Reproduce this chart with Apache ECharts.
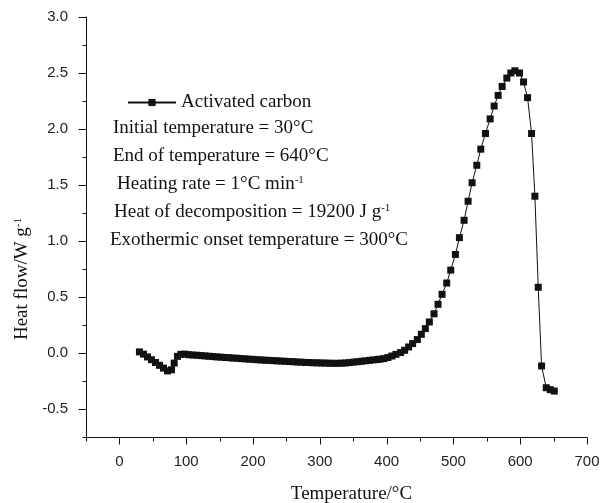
<!DOCTYPE html>
<html>
<head>
<meta charset="utf-8">
<title>Heat flow of activated carbon</title>
<script src="https://cdn.jsdelivr.net/npm/echarts@6/dist/echarts.min.js"></script>
<style>
  html, body { margin: 0; padding: 0; background: #fff; }
  #chart { width: 616px; height: 503px; }
</style>
</head>
<body>
<div id="chart"></div>
<script>
const ink = "#111";
const serif = "Liberation Serif";
const sans = "Liberation Sans";

// temperature (°C) and heat flow (W/g)
const temperature = [
  30, 36, 42, 48, 54, 60, 66, 72, 78, 82, 87, 92,
  98, 104, 110, 116, 122, 128, 134, 140, 146, 152, 158, 164, 170, 176, 182, 188,
  194, 200, 206, 212, 218, 224, 230, 236, 242, 248, 254, 260, 266, 272, 278, 284,
  290, 296, 302, 308, 314, 320, 326, 332, 338, 344, 350, 356, 362, 368, 374, 380,
  386, 390, 396, 402, 408, 414, 421, 427, 433, 439, 446, 452, 458, 464, 471, 477,
  483, 490, 496, 503, 509, 516, 522, 528, 535, 541, 548, 555, 561, 567, 573, 580,
  586, 592, 599, 605, 611, 617, 622, 627, 632, 639, 645, 651,
];
const heatFlow = [
  0.01, -0.01, -0.035, -0.06, -0.085, -0.11, -0.135, -0.16, -0.15, -0.09, -0.03, -0.012,
  -0.01, -0.015, -0.018, -0.02, -0.023, -0.026, -0.029, -0.032, -0.035, -0.037, -0.04, -0.042,
  -0.045, -0.047, -0.05, -0.052, -0.055, -0.057, -0.06, -0.062, -0.064, -0.066, -0.068, -0.07,
  -0.072, -0.074, -0.076, -0.078, -0.08, -0.082, -0.084, -0.085, -0.087, -0.088, -0.089, -0.09,
  -0.091, -0.092, -0.092, -0.091, -0.089, -0.086, -0.082, -0.078, -0.074, -0.07, -0.066, -0.062,
  -0.058, -0.055, -0.05, -0.04, -0.027, -0.012, 0.004, 0.024, 0.054, 0.084, 0.12, 0.167,
  0.218, 0.277, 0.35, 0.435, 0.524, 0.625, 0.74, 0.88, 1.03, 1.185, 1.355, 1.52,
  1.676, 1.82, 1.96, 2.09, 2.205, 2.3, 2.38, 2.455, 2.5, 2.52, 2.5, 2.42,
  2.28, 1.96, 1.4, 0.587, -0.116, -0.31, -0.327, -0.34,
];

const xRange = [-50, 700];
const yRange = [-0.75, 3];
const xMajorTicks = [0, 100, 200, 300, 400, 500, 600, 700];
const xMinorTicks = [-50, 50, 150, 250, 350, 450, 550, 650];
const yMajorTicks = [-0.5, 0, 0.5, 1, 1.5, 2, 2.5, 3];
const yMinorTicks = [-0.75, -0.25, 0.25, 0.75, 1.25, 1.75, 2.25, 2.75];

const seriesName = "Activated carbon";
const notes = [
  "Initial temperature = 30°C",
  "End of temperature = 640°C",
  "Heating rate = 1°C min{sup|-1}",
  "Heat of decomposition = 19200 J g{sup|-1}",
  "Exothermic onset temperature = 300°C",
];

const supStyle = { sup: { fontFamily: serif, fontSize: 11, verticalAlign: "top", color: ink } };
const noteLeft = [113, 113, 117, 114, 110];

function axisLine() {
  return { show: true, onZero: false, lineStyle: { color: ink, width: 1 } };
}

// Tick marks drawn as a custom series, placed through the axis scales.
function tickSeries(kind, values, length) {
  return {
    type: "custom",
    silent: true,
    clip: false,
    z: 5,
    data: values.map((v) => (kind === "x" ? [v, yRange[0]] : [xRange[0], v])),
    renderItem: (params, api) => {
      const p = api.coord([api.value(0), api.value(1)]);
      const x = Math.round(p[0]) + 0.5;
      const y = Math.round(p[1]) + 0.5;
      const shape = kind === "x"
        ? { x1: x, y1: y, x2: x, y2: y + length }
        : { x1: x - length, y1: y, x2: x, y2: y };
      return { type: "line", shape, style: { stroke: ink, lineWidth: 1 } };
    },
  };
}

const chart = echarts.init(document.getElementById("chart"), null, { renderer: "canvas" });
chart.setOption({
  animation: false,
  backgroundColor: "#fff",
  grid: { left: 86, right: 29, top: 17, bottom: 66, outerBoundsMode: "none" },
  legend: {
    data: [seriesName],
    left: 122,
    top: 88,
    itemWidth: 48,
    itemHeight: 9,
    textStyle: { fontFamily: serif, fontSize: 19, color: ink },
  },
  xAxis: {
    type: "value",
    min: xRange[0],
    max: xRange[1],
    axisLine: axisLine(),
    axisTick: { show: false },
    axisLabel: { customValues: xMajorTicks, margin: 17, fontFamily: sans, fontSize: 15, color: "#222" },
    splitLine: { show: false },
    name: "Temperature/°C",
    nameLocation: "middle",
    nameGap: 48,
    nameTextStyle: { fontFamily: serif, fontSize: 19, color: ink, padding: [0, 0, 0, 30] },
  },
  yAxis: {
    type: "value",
    min: yRange[0],
    max: yRange[1],
    axisLine: axisLine(),
    axisTick: { show: false },
    axisLabel: {
      customValues: yMajorTicks,
      margin: 18,
      fontFamily: sans,
      fontSize: 15,
      color: "#222",
      formatter: (v) => v.toFixed(1),
    },
    splitLine: { show: false },
    name: "Heat flow/W g{sup|-1}",
    nameLocation: "middle",
    nameGap: 48,
    nameTextStyle: { fontFamily: serif, fontSize: 19, color: ink, padding: [0, 104, 0, 0], rich: supStyle },
  },
  graphic: notes.map((text, i) => ({
    type: "text",
    x: noteLeft[i],
    y: 128 + i * 28,
    style: {
      text,
      fill: ink,
      fontFamily: serif,
      fontSize: 19,
      align: "left",
      verticalAlign: "middle",
      rich: supStyle,
    },
  })),
  series: [
    {
      name: seriesName,
      type: "line",
      data: temperature.map((t, i) => [t, heatFlow[i]]),
      symbol: "rect",
      symbolSize: 7,
      showAllSymbol: true,
      lineStyle: { color: ink, width: 1 },
      itemStyle: { color: ink },
    },
    tickSeries("x", xMajorTicks, 7),
    tickSeries("x", xMinorTicks, 4),
    tickSeries("y", yMajorTicks, 8),
    tickSeries("y", yMinorTicks, 4),
  ],
});
</script>
</body>
</html>
